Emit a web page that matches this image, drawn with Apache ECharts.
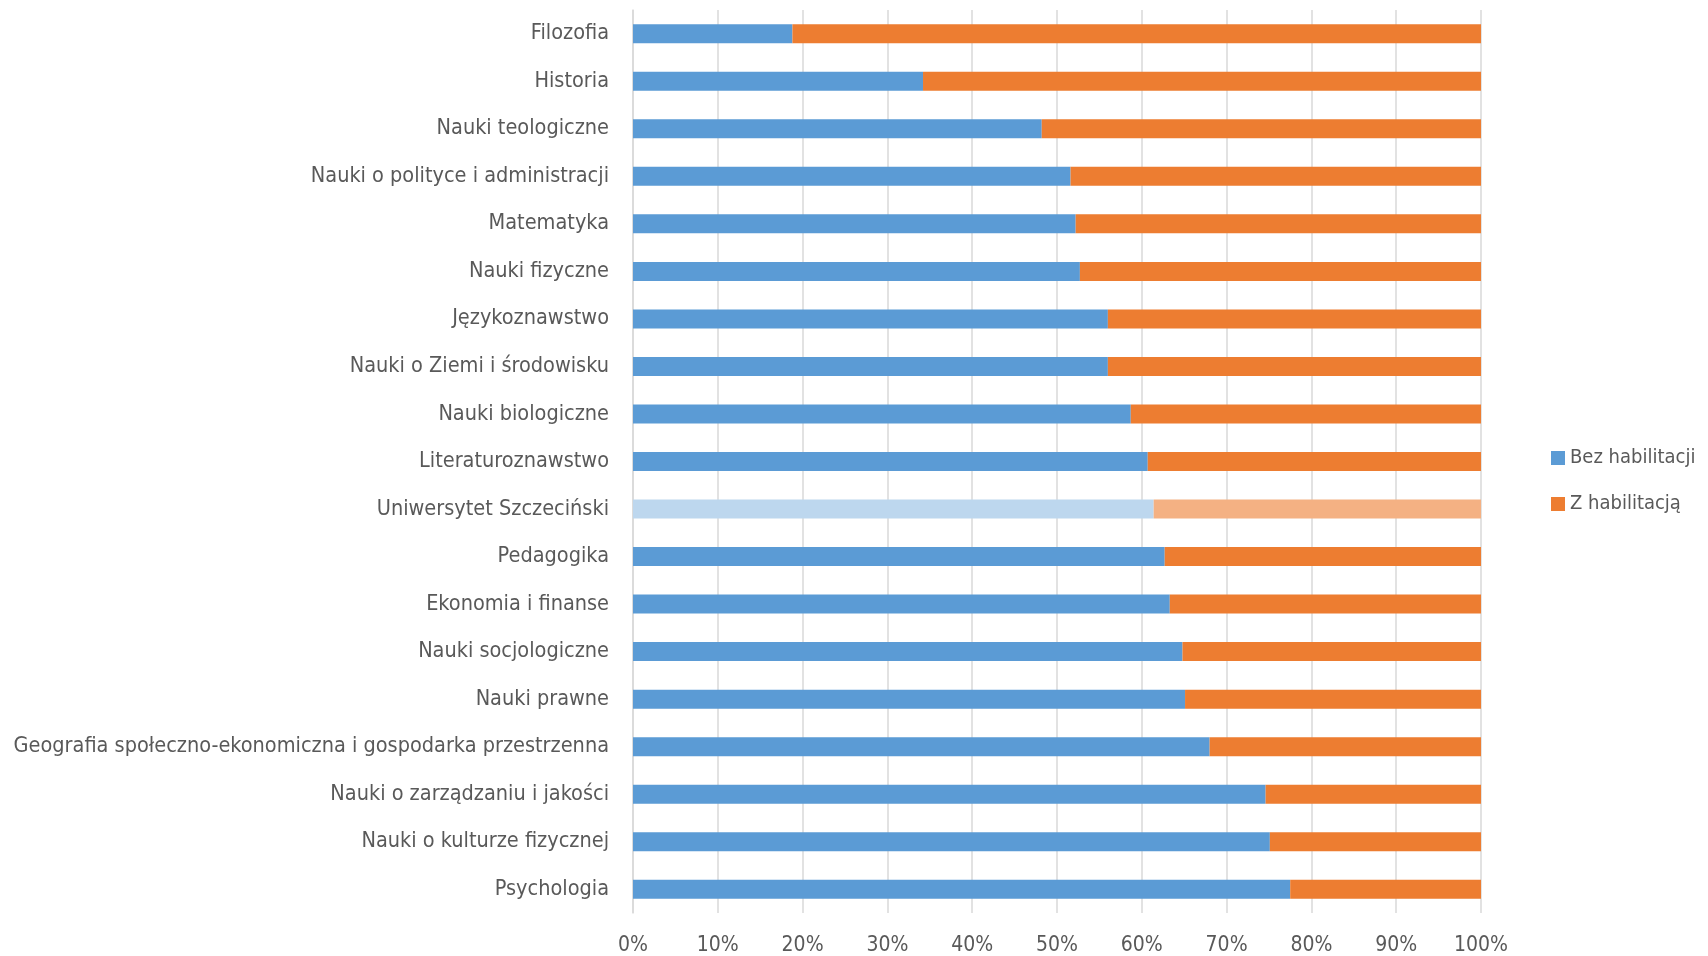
<!DOCTYPE html>
<html>
<head>
<meta charset="utf-8">
<script src="https://cdn.jsdelivr.net/npm/echarts@6/dist/echarts.min.js"></script>
<style>
  html, body { margin: 0; padding: 0; background: #ffffff; }
  #chart { width: 1708px; height: 956px; }
</style>
</head>
<body>
<div id="chart"></div>
<script>
const categories = [
  'Filozofia',
  'Historia',
  'Nauki teologiczne',
  'Nauki o polityce i administracji',
  'Matematyka',
  'Nauki fizyczne',
  'Językoznawstwo',
  'Nauki o Ziemi i środowisku',
  'Nauki biologiczne',
  'Literaturoznawstwo',
  'Uniwersytet Szczeciński',
  'Pedagogika',
  'Ekonomia i finanse',
  'Nauki socjologiczne',
  'Nauki prawne',
  'Geografia społeczno-ekonomiczna i gospodarka przestrzenna',
  'Nauki o zarządzaniu i jakości',
  'Nauki o kulturze fizycznej',
  'Psychologia'
]

// udział procentowy
const bezHabilitacji = [18.8, 34.2, 48.2, 51.6, 52.2, 52.7, 56.0, 56.0, 58.7, 60.7, 61.4, 62.7, 63.3, 64.8, 65.1, 68.0, 74.6, 75.1, 77.5]
const zHabilitacja = [81.2, 65.8, 51.8, 48.4, 47.8, 47.3, 44.0, 44.0, 41.3, 39.3, 38.6, 37.3, 36.7, 35.2, 34.9, 32.0, 25.4, 24.9, 22.5]

const xTicks = [0, 10, 20, 30, 40, 50, 60, 70, 80, 90, 100]

const highlighted = 'Uniwersytet Szczeciński'

const FONT = "'Liberation Sans Narrow', 'DejaVu Sans Condensed', 'Open Sans', sans-serif"
const TEXT = '#595959'

const toData = (values, lightColor) =>
  values.map((v, i) =>
    categories[i] === highlighted ? { value: v, itemStyle: { color: lightColor } } : v
  )

const chart = echarts.init(document.getElementById('chart'))

chart.setOption({
  animation: false,
  grid: {
    left: 633,
    right: 227,
    top: 10,
    bottom: 43,
    containLabel: false,
    outerBoundsMode: 'none',
  },
  legend: {
    orient: 'vertical',
    left: 1546,
    top: 443,
    itemWidth: 14,
    itemHeight: 14,
    itemGap: 26,
    icon: 'rect',
    textStyle: {
      color: TEXT,
      fontFamily: FONT,
      fontSize: 20,
    },
    data: ['Bez habilitacji', 'Z habilitacją'],
  },
  xAxis: {
    type: 'value',
    min: xTicks[0],
    max: xTicks[xTicks.length - 1],
    interval: 10,
    axisLine: { show: false },
    axisTick: { show: false },
    splitLine: {
      lineStyle: { color: '#d9d9d9', width: 1.5 },
    },
    axisLabel: {
      color: TEXT,
      fontFamily: FONT,
      fontSize: 21,
      margin: 22,
      formatter: (v) => `${v}%`,
    },
  },
  yAxis: {
    type: 'category',
    inverse: true,
    data: categories,
    axisLine: {
      lineStyle: { color: '#d9d9d9', width: 1.5 },
    },
    axisTick: { show: false },
    axisLabel: {
      color: TEXT,
      fontFamily: FONT,
      fontSize: 21.5,
      margin: 24,
    },
  },
  series: [
    {
      name: 'Bez habilitacji',
      type: 'bar',
      stack: 'total',
      barWidth: 19,
      itemStyle: { color: '#5b9bd5' },
      data: toData(bezHabilitacji, '#bdd7ee'),
    },
    {
      name: 'Z habilitacją',
      type: 'bar',
      stack: 'total',
      barWidth: 19,
      itemStyle: { color: '#ed7d31' },
      data: toData(zHabilitacja, '#f4b183'),
    },
  ],
})
</script>
</body>
</html>
